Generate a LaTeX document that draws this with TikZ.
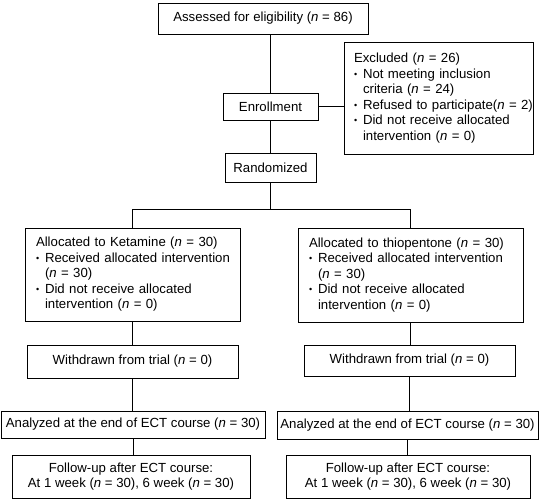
\documentclass[tikz,border=0pt]{standalone}
\usepackage{fontspec}
\setmainfont{Liberation Sans}
\newcommand\mybul{\makebox[9pt][l]{\raisebox{1pt}{\small\textbullet}}}
\newcommand\myind{\hspace*{9pt}}
\newcommand\nn{\textit{n}}
\begin{document}
\begin{tikzpicture}[x=1pt,y=-1pt,
  box/.style={draw, line width=0.8pt, inner sep=0pt, font=\fontsize{13.2}{15.5}\selectfont},
  lbox/.style={box, align=left, inner xsep=11pt},
  conn/.style={line width=0.8pt}]
\useasboundingbox (0,0) rectangle (540,500);
\node[box, minimum width=210, minimum height=31] (assess) at (263,18.5) {Assessed for eligibility (\nn{} = 86)};
\node[box, minimum width=95, minimum height=27] (enroll) at (270.5,106.5) {Enrollment};
\node[box, minimum width=91, minimum height=29] (random) at (270.5,167.5) {Randomized};
\node[lbox, inner xsep=10pt, text width=169, minimum height=112] (excl) at (438.5,98) {Excluded (\nn{} = 26)\\
\mbox{\mybul Not meeting inclusion}\\
\myind criteria (\nn{} = 24)\\
\mbox{\mybul Refused to participate(\nn{} = 2)}\\
\mbox{\mybul Did not receive allocated}\\
\myind intervention (\nn{} = 0)};
\coordinate (split) at (270.5,209.5);
\node[lbox, text width=193, minimum height=93] (ket) at (132.5,274.5) {\mbox{Allocated to Ketamine (\nn{} = 30)}\\
\mbox{\mybul Received allocated intervention}\\
\myind (\nn{} = 30)\\
\mbox{\mybul Did not receive allocated}\\
\myind intervention (\nn{} = 0)};
\node[lbox, text width=203, minimum height=94] (thio) at (410.5,275) {\mbox{Allocated to thiopentone (\nn{} = 30)}\\
\mbox{\mybul Received allocated intervention}\\
\myind (\nn{} = 30)\\
\mbox{\mybul Did not receive allocated}\\
\myind intervention (\nn{} = 0)};
\node[box, minimum width=211, minimum height=33] (wL) at (132.5,361.5) {Withdrawn from trial (\nn{} = 0)};
\node[box, minimum width=211, minimum height=31] (wR) at (409.5,360.5) {Withdrawn from trial (\nn{} = 0)};
\node[box, minimum width=264, minimum height=27] (aL) at (133,424.5) {Analyzed at the end of ECT course (\nn{} = 30)};
\node[box, minimum width=261, minimum height=28] (aR) at (407.5,425) {Analyzed at the end of ECT course (\nn{} = 30)};
\node[box, align=center, minimum width=238, minimum height=43] (fL) at (131,476.5) {Follow-up after ECT course:\\At 1 week (\nn{} = 30), 6 week (\nn{} = 30)};
\node[box, align=center, minimum width=244, minimum height=43] (fR) at (408,476.5) {Follow-up after ECT course:\\At 1 week (\nn{} = 30), 6 week (\nn{} = 30)};
\draw[conn] (assess.south -| enroll) -- (enroll.north);
\draw[conn] (enroll) -- (random);
\draw[conn] (enroll.east) -- (excl.west |- enroll.east);
\draw[conn] (random.south) -- (split);
\draw[conn] (ket.north) |- (split) -| (thio.north);
\draw[conn] (ket.south) -- (ket.south |- wL.north);
\draw[conn] (thio.south) -- (thio.south |- wR.north);
\draw[conn] (wL.south) -- (wL.south |- aL.north);
\draw[conn] (wR.south) -- (wR.south |- aR.north);
\draw[conn] (aL.south) -- (aL.south |- fL.north);
\draw[conn] (aR.south) -- (aR.south |- fR.north);
\end{tikzpicture}
\end{document}
